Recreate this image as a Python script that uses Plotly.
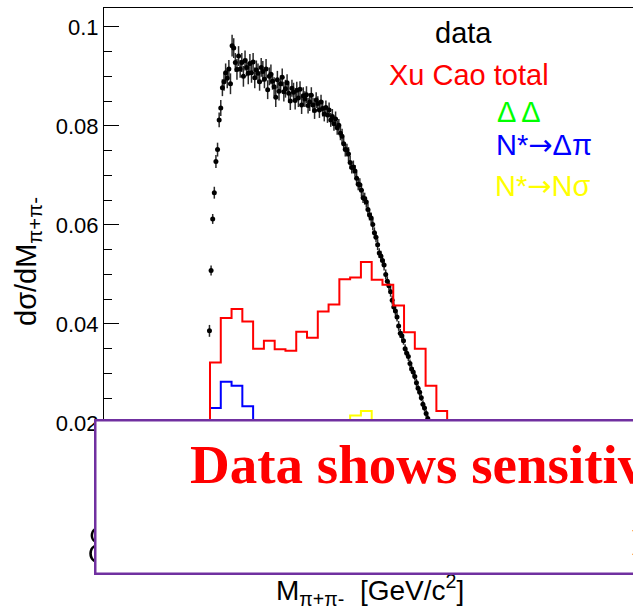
import numpy as np
import plotly.graph_objects as go

# ---------------- data ----------------
data_x0 = 0.279        # first data bin centre [GeV/c^2]
data_step = 0.003      # data bin width
data_y = [0.0386, 0.0508, 0.0612, 0.0665, 0.0728, 0.0752, 0.0812, 0.0836, 0.0877, 0.0889,
          0.0907, 0.0896, 0.0915, 0.0885, 0.0962, 0.0957, 0.0928, 0.0914, 0.0941, 0.0915,
          0.0928, 0.0900, 0.0932, 0.0918, 0.0906, 0.0926, 0.0907, 0.0929, 0.0897, 0.0913,
          0.0906, 0.0889, 0.0918, 0.0910, 0.0894, 0.0915, 0.0873, 0.0900, 0.0904, 0.0890,
          0.0879, 0.0858, 0.0893, 0.0870, 0.0885, 0.0898, 0.0869, 0.0875, 0.0887, 0.0866,
          0.0850, 0.0876, 0.0868, 0.0851, 0.0872, 0.0856, 0.0874, 0.0842, 0.0861, 0.0854,
          0.0863, 0.0841, 0.0848, 0.0862, 0.0842, 0.0831, 0.0852, 0.0845, 0.0832, 0.0848,
          0.0835, 0.0824, 0.0837, 0.0822, 0.0832, 0.0812, 0.0819, 0.0804, 0.0814, 0.0796,
          0.0801, 0.0785, 0.0779, 0.0764, 0.0752, 0.0751, 0.0743, 0.0726, 0.0716, 0.0717,
          0.0709, 0.0694, 0.0682, 0.0681, 0.0670, 0.0655, 0.0653, 0.0646, 0.0631, 0.0620,
          0.0614, 0.0601, 0.0584, 0.0575, 0.0560, 0.0543, 0.0537, 0.0528, 0.0519, 0.0500,
          0.0486, 0.0477, 0.0465, 0.0448, 0.0434, 0.0426, 0.0414, 0.0396, 0.0381, 0.0376,
          0.0366, 0.0350, 0.0341, 0.0334, 0.0320, 0.0309, 0.0303, 0.0294, 0.0281, 0.0270,
          0.0262, 0.0251, 0.0238, 0.0230, 0.0219, 0.0209, 0.0196, 0.0185, 0.0171, 0.0161,
          0.0145, 0.0132, 0.0114, 0.0099, 0.0079, 0.0061, 0.0039]
data_err = [0.0012, 0.0010, 0.0010, 0.0012, 0.0013, 0.0014, 0.0015, 0.0016, 0.0017, 0.0018,
            0.0019, 0.0020, 0.0018, 0.0021, 0.0022, 0.0020, 0.0019, 0.0021, 0.0020, 0.0018,
            0.0019, 0.0021, 0.0020, 0.0018, 0.0022, 0.0019, 0.0020, 0.0018, 0.0021, 0.0019,
            0.0020, 0.0018, 0.0019, 0.0021, 0.0018, 0.0020, 0.0019, 0.0018, 0.0020, 0.0017,
            0.0019, 0.0020, 0.0018, 0.0019, 0.0017, 0.0018, 0.0020, 0.0018, 0.0017, 0.0019,
            0.0018, 0.0017, 0.0019, 0.0018, 0.0017, 0.0018, 0.0016, 0.0018, 0.0017, 0.0016,
            0.0017, 0.0016, 0.0018, 0.0016, 0.0015, 0.0017, 0.0016, 0.0015, 0.0016, 0.0015,
            0.0016, 0.0015, 0.0014, 0.0016, 0.0015, 0.0014, 0.0015, 0.0014, 0.0015, 0.0014,
            0.0013, 0.0014, 0.0015, 0.0013, 0.0014, 0.0013, 0.0014, 0.0013, 0.0012, 0.0013,
            0.0012, 0.0013, 0.0012, 0.0013, 0.0012, 0.0011, 0.0012, 0.0011, 0.0012, 0.0011,
            0.0011, 0.0012, 0.0011, 0.0010, 0.0011, 0.0010, 0.0011, 0.0010, 0.0011, 0.0010,
            0.0010, 0.0009, 0.0010, 0.0009, 0.0010, 0.0009, 0.0009, 0.0010, 0.0009, 0.0009,
            0.0008, 0.0009, 0.0008, 0.0009, 0.0008, 0.0008, 0.0009, 0.0008, 0.0008, 0.0007,
            0.0008, 0.0007, 0.0008, 0.0007, 0.0007, 0.0007, 0.0006, 0.0007, 0.0006, 0.0006,
            0.0006, 0.0005, 0.0006, 0.0005, 0.0005, 0.0004, 0.0004]

hist_x0 = 0.28         # first histogram bin edge
hist_step = 0.02       # histogram bin width
xucao_total = [0.0322, 0.0412, 0.0430, 0.0405, 0.0350, 0.0366, 0.0349, 0.0346, 0.0384, 0.0372, 0.0425,
               0.0439, 0.0490, 0.0494, 0.0525, 0.0489, 0.0479, 0.0437, 0.0383, 0.0350, 0.0275, 0.0224]
delta_delta = [0.0020, 0.0035, 0.0050, 0.0062, 0.0072, 0.0080, 0.0086, 0.0090, 0.0092, 0.0093, 0.0092,
               0.0090, 0.0086, 0.0080, 0.0072, 0.0063, 0.0052, 0.0040, 0.0029, 0.0018, 0.0009, 0.0003]
nstar_dpi = [0.0230, 0.0283, 0.0275, 0.0234, 0.0165, 0.0120, 0.0095, 0.0080, 0.0070, 0.0060, 0.0052,
             0.0045, 0.0040, 0.0032, 0.0026, 0.0020, 0.0015, 0.0010, 0.0007, 0.0004, 0.0002, 0.0001]
nstar_nsigma = [0.0040, 0.0060, 0.0080, 0.0100, 0.0120, 0.0130, 0.0140, 0.0150, 0.0160, 0.0170, 0.0180,
                0.0190, 0.0195, 0.0215, 0.0224, 0.0190, 0.0150, 0.0110, 0.0070, 0.0040, 0.0020, 0.0010]

y_tickvals = [0.02, 0.04, 0.06, 0.08, 0.1]

ARW = '<span style="font-family:DejaVu Sans">\u2192</span>'
legend_labels = ["data", "Xu Cao total", "\u0394 \u0394", "N*" + ARW + "\u0394\u03c0", "N*" + ARW + "N\u03c3"]
legend_colors = ["#000000", "#ff0000", "#00ff00", "#0000ff", "#ffff00"]

# ---------------- figure ----------------
W, H = 633, 608
ML, MR, MT, MB = 104, 0, 8, 86
pw, ph = W - ML - MR, H - MT - MB


def px_x(p):
    return (p - ML) / pw


def px_y(p):
    return (H - MB - p) / ph


xc = data_x0 + data_step * np.arange(len(data_y))
fig = go.Figure()
fig.add_trace(go.Scatter(
    x=xc, y=data_y, mode="markers",
    marker=dict(color="black", size=5),
    error_y=dict(type="data", array=data_err, visible=True, color="#2a2a2a", thickness=1.5, width=0),
    showlegend=False, hoverinfo="skip"))


def step(vals):
    edges = hist_x0 + hist_step * np.arange(len(vals) + 1)
    xs, ys = [edges[0]], [0.0]
    for i, v in enumerate(vals):
        xs += [edges[i], edges[i + 1]]
        ys += [v, v]
    xs.append(edges[-1])
    ys.append(0.0)
    return xs, ys


for vals, col in [(delta_delta, "#00ff00"), (nstar_nsigma, "#ffff00"),
                  (nstar_dpi, "#0000ff"), (xucao_total, "#ff0000")]:
    xs, ys = step(vals)
    fig.add_trace(go.Scatter(x=xs, y=ys, mode="lines", line=dict(color=col, width=2),
                             showlegend=False, hoverinfo="skip"))

x_lo = 0.28 + (ML - 210) / 539.0
x_hi = 0.28 + (W - MR - 210) / 539.0
fig.update_xaxes(range=[x_lo, x_hi], showgrid=False, zeroline=False, showticklabels=False,
                 showline=True, mirror=True, linecolor="black", linewidth=1, ticks="")
fig.update_yaxes(range=[0, 0.1038], showgrid=False, zeroline=False, showline=True, mirror=False,
                 linecolor="black", linewidth=1, ticks="inside", ticklen=15, tickwidth=1,
                 tickcolor="black", tickmode="array", tickvals=y_tickvals,
                 tickfont=dict(family="Liberation Sans", size=22, color="black"),
                 minor=dict(ticks="inside", ticklen=8, tickwidth=1, tickcolor="black",
                            tickmode="linear", tick0=0, dtick=0.005))

ann = []
legend_pos = [(433, 33), (387, 75), (495, 112), (494, 145), (493, 186)]
for lab, col, (lx, ly) in zip(legend_labels, legend_colors, legend_pos):
    ann.append(dict(text=lab, x=px_x(lx), y=px_y(ly), xref="paper", yref="paper",
                    xanchor="left", yanchor="middle", showarrow=False,
                    font=dict(family="Liberation Sans", size=29, color=col)))

ann.append(dict(text="d\u03c3/dM<sub>\u03c0+\u03c0-</sub>", x=px_x(28), y=px_y(262), xref="paper", yref="paper",
                textangle=-90, xanchor="center", yanchor="middle", showarrow=False,
                font=dict(family="Liberation Sans", size=29, color="black")))
ann.append(dict(text="M<sub>\u03c0+\u03c0-</sub>  [GeV/c<sup>2</sup>]", x=px_x(370), y=px_y(590),
                xref="paper", yref="paper", xanchor="center", yanchor="middle", showarrow=False,
                font=dict(family="Liberation Sans", size=28, color="black")))
# partially hidden "8" (drawn before the overlay box so the box covers it)
ann.append(dict(text="8", x=px_x(84), y=px_y(543), xref="paper", yref="paper",
                xanchor="left", yanchor="middle", showarrow=False,
                font=dict(family="Lato", size=54, color="black", weight=300)))
# overlay box (annotation so it covers tick labels as well)
ann.append(dict(text=" ", x=px_x(94), y=px_y(419), xref="paper", yref="paper",
                xanchor="left", yanchor="top", showarrow=False, width=620, height=151,
                borderpad=0, borderwidth=2.5, bordercolor="#7030A0", bgcolor="white",
                font=dict(size=10)))
ann.append(dict(text="<b>Data shows sensitivity</b>", x=px_x(188), y=px_y(464), xref="paper", yref="paper",
                xanchor="left", yanchor="middle", showarrow=False,
                font=dict(family="Liberation Serif", size=55, color="#ff0000")))
ann.append(dict(text="<b>N*</b>", x=px_x(630), y=px_y(542), xref="paper", yref="paper",
                xanchor="left", yanchor="middle", showarrow=False,
                font=dict(family="Liberation Serif", size=38, color="#ff0000")))

fig.update_layout(
    width=W, height=H, margin=dict(l=ML, r=MR, t=MT, b=MB),
    paper_bgcolor="white", plot_bgcolor="white",
    annotations=ann,
)

fig.write_html("out.html")
